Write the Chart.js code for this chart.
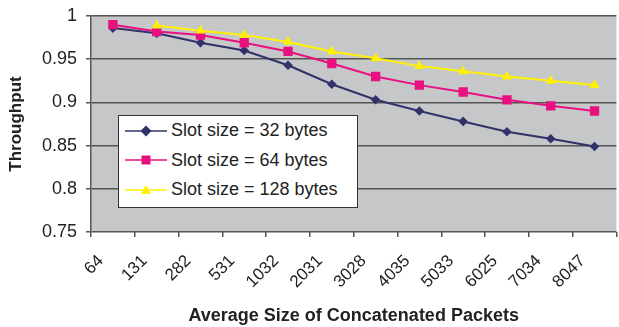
<!DOCTYPE html>
<html>
<head>
<meta charset="utf-8">
<script src="https://cdn.jsdelivr.net/npm/chart.js@4/dist/chart.umd.min.js"></script>
<style>
  html,body{margin:0;padding:0;background:#fff;overflow:hidden;}
  #wrap{position:relative;width:623px;height:327px;}
  #legend{position:absolute;left:118px;top:115px;width:238px;height:91px;background:#fff;
          border:1px solid #333;font-family:"Liberation Sans",Arial,sans-serif;font-size:18px;color:#222;}
  #legend .row{display:flex;align-items:center;height:29.5px;}
  #legend svg{margin-left:6px;margin-right:4px;}
</style>
</head>
<body>
<div id="wrap">
  <canvas id="c" width="623" height="327"></canvas>
  <div id="legend"></div>
</div>
<script>
// data
const categories = ["64","131","282","531","1032","2031","3028","4035","5033","6025","7034","8047"];
const slot32  = [0.986,0.980,0.969,0.960,0.943,0.921,0.903,0.890,0.878,0.866,0.858,0.849];
const slot64  = [0.990,0.982,0.978,0.969,0.959,0.945,0.930,0.920,0.912,0.903,0.896,0.890];
const slot128 = [null,0.989,0.983,0.978,0.970,0.959,0.951,0.942,0.936,0.930,0.925,0.920];
const seriesLabels = ["Slot size = 32 bytes","Slot size = 64 bytes","Slot size = 128 bytes"];
const yTicks = [0.75,0.8,0.85,0.9,0.95,1];

(function(){
  const FONT = "'Liberation Sans', Arial, sans-serif";
  const colors = ["#2f336a","#e8117f","#fff200"];
  const shapes = ["rectRot","rect","triangle"];
  const radii  = [4.8,6.6,5.8];

  // gray plot background
  const plotBg = {
    id:"plotBg",
    beforeDraw(chart){
      const {ctx, chartArea:a} = chart;
      ctx.save(); ctx.fillStyle = "#c6c7c9";
      ctx.fillRect(a.left, a.top, a.right-a.left, a.bottom-a.top);
      ctx.restore();
    }
  };

  const datasets = [slot32, slot64, slot128].map((d,i)=>({
    label: seriesLabels[i], data: d,
    borderColor: colors[i], backgroundColor: colors[i],
    borderWidth: 2, pointStyle: shapes[i], pointRadius: radii[i],
    pointBorderWidth: 0, tension: 0, order: 3-i
  }));

  const chart = new Chart(document.getElementById("c"), {
    type:"line",
    data:{ labels: categories, datasets },
    options:{
      responsive:false, animation:false,
      layout:{ padding:{ top:16, left:0, right:0, bottom:0 } },
      plugins:{ legend:{display:false}, tooltip:{enabled:false} },
      scales:{
        x:{
          offset:true,
          grid:{ offset:true, drawOnChartArea:false, drawTicks:true, tickLength:5, color:"#555", lineWidth:1.5 },
          border:{ display:false },
          ticks:{ minRotation:45, maxRotation:45, autoSkip:false, padding:14, labelOffset:-12,
                  color:"#222", font:{ family:FONT, size:17 } },
          title:{ display:true, text:"Average Size of Concatenated Packets", color:"#222",
                  padding:{top:2,bottom:0}, font:{ family:FONT, size:18, weight:"bold" } },
          afterFit(s){ s.height = 95; s.paddingLeft = 0; s.paddingRight = 0; }
        },
        y:{
          min:0.75, max:1,
          afterBuildTicks(s){ s.ticks = yTicks.map(v=>({value:v})); },
          grid:{ color:"#555", lineWidth:1.5, tickLength:5 },
          border:{ display:true, color:"#555", width:1.5 },
          ticks:{ padding:9, color:"#222", font:{ family:FONT, size:18 },
                  callback:v=>String(+v.toFixed(2)) },
          title:{ display:true, text:"Throughput", color:"#222",
                  padding:{top:6,bottom:0}, font:{ family:FONT, size:17, weight:"bold" } },
          // fixed axis width, let layout.padding set the top edge
          afterFit(s){ s.width = 91; s.paddingTop = 0; s.paddingBottom = 0; }
        }
      }
    },
    plugins:[plotBg]
  });

  // legend box inside the plot
  const $legend = document.getElementById("legend");
  chart.data.datasets.forEach((ds,i)=>{
    let mark;
    if(i===0) mark = `<polygon points="21,1.5 26.5,7 21,12.5 15.5,7" fill="${ds.borderColor}"/>`;
    else if(i===1) mark = `<rect x="16.5" y="2.5" width="9" height="9" fill="${ds.borderColor}"/>`;
    else mark = `<polygon points="21,2 26,11 16,11" fill="${ds.borderColor}"/>`;
    $legend.insertAdjacentHTML("beforeend",
      `<div class="row"><svg width="42" height="14"><line x1="0" y1="7" x2="42" y2="7" stroke="${ds.borderColor}" stroke-width="1.5"/>${mark}</svg><span>${ds.label}</span></div>`);
  });
})();
</script>
</body>
</html>
